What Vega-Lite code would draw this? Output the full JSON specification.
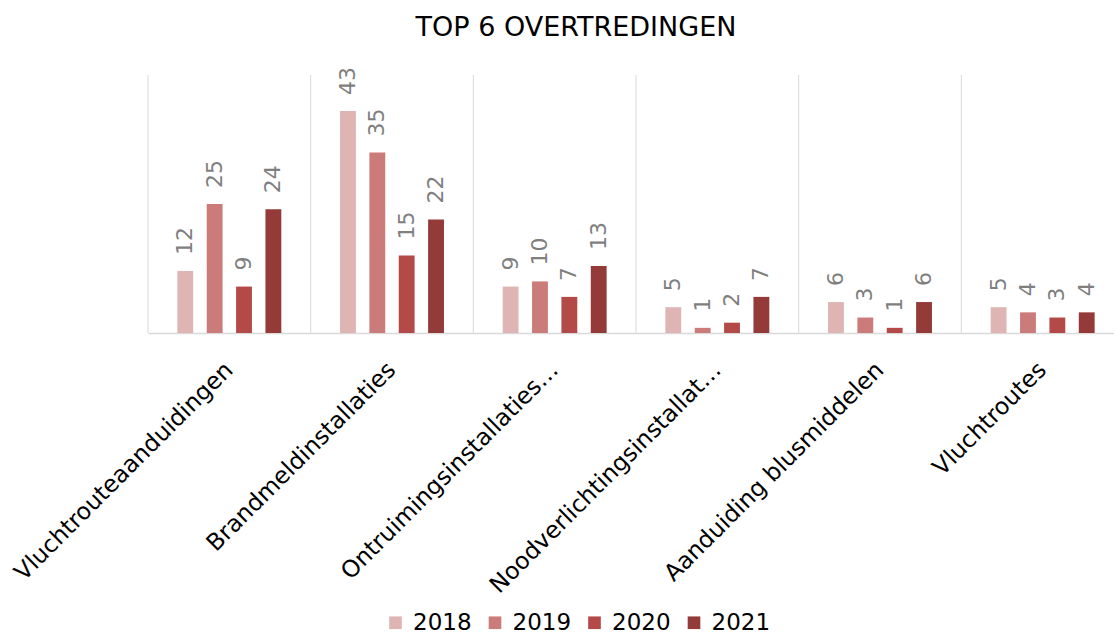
{
  "$schema": "https://vega.github.io/schema/vega-lite/v6.json",
  "width": 966,
  "height": 258,
  "autosize": "none",
  "padding": {"left": 148, "top": 75, "right": 0, "bottom": 302},
  "background": "white",
  "config": {
    "view": {"stroke": null},
    "font": "DejaVu Sans"
  },
  "title": {
    "text": "TOP 6 OVERTREDINGEN",
    "font": "DejaVu Sans",
    "fontSize": 27,
    "fontWeight": "normal",
    "color": "#000000",
    "anchor": "middle",
    "baseline": "alphabetic",
    "offset": 4,
    "dx": -55
  },
  "datasets": {
    "main": [
      {"cat": "Vluchtrouteaanduidingen", "year": "2018", "value": 12},
      {"cat": "Vluchtrouteaanduidingen", "year": "2019", "value": 25},
      {"cat": "Vluchtrouteaanduidingen", "year": "2020", "value": 9},
      {"cat": "Vluchtrouteaanduidingen", "year": "2021", "value": 24},
      {"cat": "Brandmeldinstallaties", "year": "2018", "value": 43},
      {"cat": "Brandmeldinstallaties", "year": "2019", "value": 35},
      {"cat": "Brandmeldinstallaties", "year": "2020", "value": 15},
      {"cat": "Brandmeldinstallaties", "year": "2021", "value": 22},
      {"cat": "Ontruimingsinstallaties…", "year": "2018", "value": 9},
      {"cat": "Ontruimingsinstallaties…", "year": "2019", "value": 10},
      {"cat": "Ontruimingsinstallaties…", "year": "2020", "value": 7},
      {"cat": "Ontruimingsinstallaties…", "year": "2021", "value": 13},
      {"cat": "Noodverlichtingsinstallat…", "year": "2018", "value": 5},
      {"cat": "Noodverlichtingsinstallat…", "year": "2019", "value": 1},
      {"cat": "Noodverlichtingsinstallat…", "year": "2020", "value": 2},
      {"cat": "Noodverlichtingsinstallat…", "year": "2021", "value": 7},
      {"cat": "Aanduiding blusmiddelen", "year": "2018", "value": 6},
      {"cat": "Aanduiding blusmiddelen", "year": "2019", "value": 3},
      {"cat": "Aanduiding blusmiddelen", "year": "2020", "value": 1},
      {"cat": "Aanduiding blusmiddelen", "year": "2021", "value": 6},
      {"cat": "Vluchtroutes", "year": "2018", "value": 5},
      {"cat": "Vluchtroutes", "year": "2019", "value": 4},
      {"cat": "Vluchtroutes", "year": "2020", "value": 3},
      {"cat": "Vluchtroutes", "year": "2021", "value": 4}
    ],
    "cats": [
      {"cat": "Vluchtrouteaanduidingen"},
      {"cat": "Brandmeldinstallaties"},
      {"cat": "Ontruimingsinstallaties…"},
      {"cat": "Noodverlichtingsinstallat…"},
      {"cat": "Aanduiding blusmiddelen"},
      {"cat": "Vluchtroutes"}
    ]
  },
  "layer": [
    {
      "data": {"name": "cats"},
      "mark": {"type": "rule", "color": "#d9d9d9", "strokeWidth": 1},
      "encoding": {
        "x": {"field": "cat", "type": "nominal", "bandPosition": 0,
          "sort": ["Vluchtrouteaanduidingen", "Brandmeldinstallaties", "Ontruimingsinstallaties…", "Noodverlichtingsinstallat…", "Aanduiding blusmiddelen", "Vluchtroutes"]}
      }
    },
    {
      "data": {"name": "main"},
      "mark": {"type": "bar"},
      "encoding": {
        "x": {
          "field": "cat", "type": "nominal",
          "sort": ["Vluchtrouteaanduidingen", "Brandmeldinstallaties", "Ontruimingsinstallaties…", "Noodverlichtingsinstallat…", "Aanduiding blusmiddelen", "Vluchtroutes"],
          "scale": {"paddingInner": 0, "paddingOuter": 0, "range": [0, 976]},
          "axis": {
            "title": null,
            "labelAngle": -45,
            "labelAlign": "right",
            "labelBaseline": "middle",
            "labelFontSize": 23.5,
            "labelFont": "DejaVu Sans",
            "labelColor": "#000000",
            "labelPadding": 33,
            "labelLimit": 400,
            "ticks": false,
            "grid": false,
            "domain": true,
            "domainColor": "#d9d9d9",
            "domainWidth": 1.5
          }
        },
        "xOffset": {"field": "year", "type": "nominal", "scale": {"paddingInner": 0.46, "paddingOuter": 1.156}},
        "y": {"field": "value", "type": "quantitative", "scale": {"domain": [0, 50]}, "axis": null},
        "color": {
          "field": "year", "type": "nominal",
          "scale": {"domain": ["2018", "2019", "2020", "2021"], "range": ["#dfb5b4", "#cb7b79", "#b34a48", "#943a39"]},
          "legend": {
            "title": null,
            "orient": "none",
            "direction": "horizontal",
            "legendX": 236,
            "legendY": 536,
            "symbolType": "square",
            "symbolSize": 160,
            "symbolStrokeWidth": 0,
            "labelFontSize": 23,
            "labelFont": "DejaVu Sans",
            "labelColor": "#000000",
            "labelOffset": 6,
            "columnPadding": 11.5,
            "padding": 0
          }
        }
      }
    },
    {
      "data": {"name": "main"},
      "mark": {"type": "text", "angle": 270, "align": "left", "baseline": "middle", "dx": 16, "fontSize": 22, "font": "DejaVu Sans", "color": "#7f7f7f"},
      "encoding": {
        "x": {"field": "cat", "type": "nominal",
          "sort": ["Vluchtrouteaanduidingen", "Brandmeldinstallaties", "Ontruimingsinstallaties…", "Noodverlichtingsinstallat…", "Aanduiding blusmiddelen", "Vluchtroutes"]},
        "xOffset": {"field": "year", "type": "nominal"},
        "y": {"field": "value", "type": "quantitative"},
        "text": {"field": "value", "type": "quantitative"}
      }
    }
  ]
}
